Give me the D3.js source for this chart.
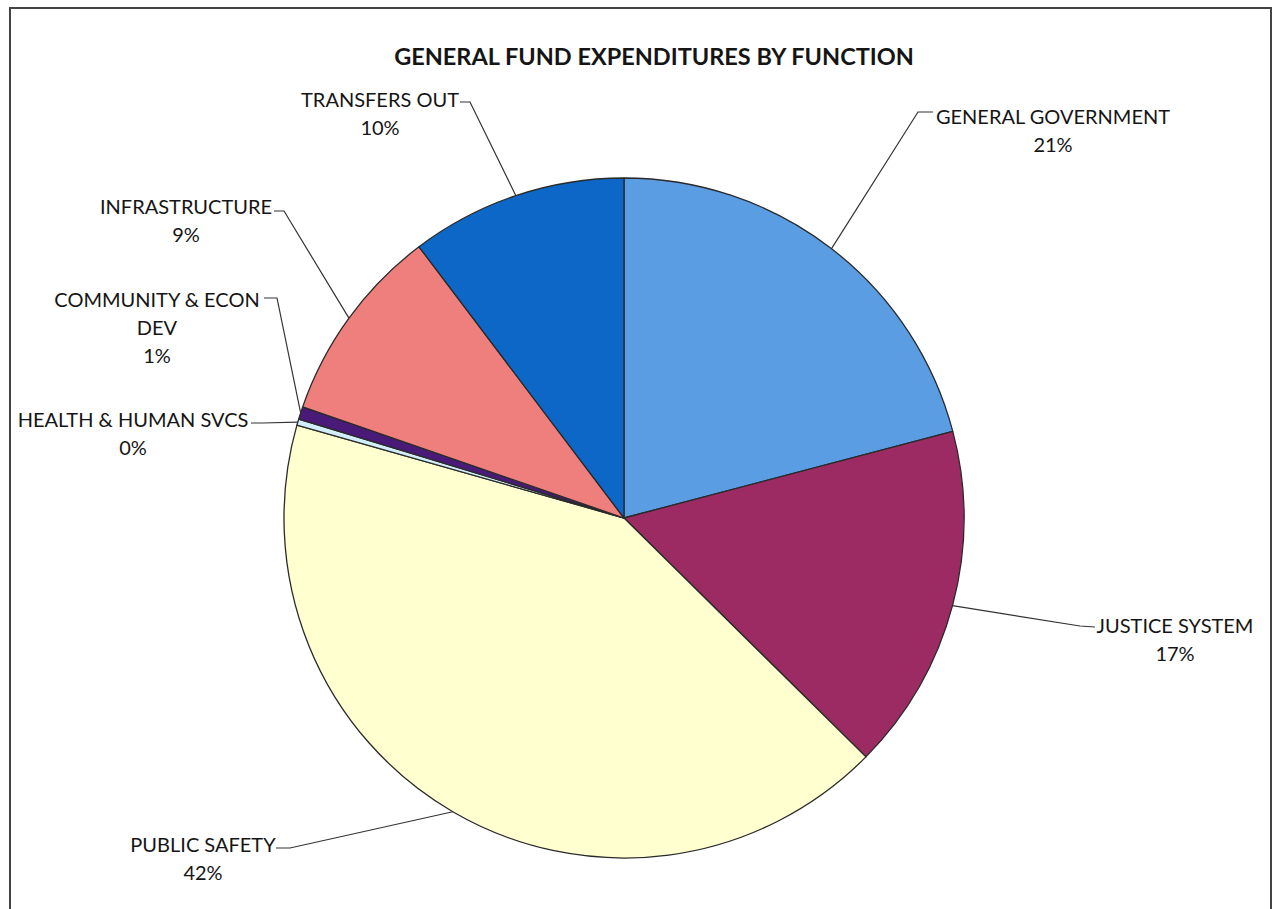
<!DOCTYPE html>
<html>
<head>
<meta charset="utf-8">
<script src="https://cdn.jsdelivr.net/npm/d3@7"></script>
<style>
  body { margin: 0; background: #fff; }
  text { font-family: Lato, "Open Sans", sans-serif; fill: #151515; }
</style>
</head>
<body>
<div id="chart"></div>
<script>
// categories, in clockwise order starting at 12 o'clock
var categories = ["GENERAL GOVERNMENT", "JUSTICE SYSTEM", "PUBLIC SAFETY",
  "HEALTH & HUMAN SVCS", "COMMUNITY & ECON DEV", "INFRASTRUCTURE", "TRANSFERS OUT"];
// share of expenditures, percent
var values = [20.9, 16.5, 42.0, 0.3, 0.6, 9.4, 10.3];
var colors = ["#5b9de3", "#9c2b63", "#ffffd0", "#d2eefa", "#4a1a78", "#ee7f7c", "#0c67c6"];

(function() {
  var width = 1272,
      height = 909

  var svg = d3.select("#chart")
    .append("svg")
    .attr("width", width)
    .attr("height", height)

  // outer frame
  svg.append("rect")
    .attr("x", 10).attr("y", 8)
    .attr("width", 1261).attr("height", 920)
    .attr("fill", "none")
    .attr("stroke", "#444")
    .attr("stroke-width", 2)

  svg.append("text")
    .attr("x", 654).attr("y", 65)
    .attr("text-anchor", "middle")
    .attr("font-size", 23.5)
    .attr("font-weight", "bold")
    .text("GENERAL FUND EXPENDITURES BY FUNCTION")

  var cx = 624, cy = 518, radius = 340

  var pie = d3.pie().sort(null).value(d => d.value)
  var arc = d3.arc().innerRadius(0).outerRadius(radius)

  var data = categories.map((c, i) => ({ name: c, value: values[i], color: colors[i] }))
  var arcs = pie(data)

  var g = svg.append("g")
    .attr("transform", "translate(" + cx + "," + cy + ")")

  g.selectAll("path")
    .data(arcs)
    .enter().append("path")
    .attr("d", arc)
    .attr("fill", d => d.data.color)
    .attr("stroke", "#2a2a2a")
    .attr("stroke-width", 1.3)
    .attr("stroke-linejoin", "round")

  // label layout: text lines, anchor point (centre of first line), and leader elbow
  var layout = [
    { lines: ["GENERAL GOVERNMENT"], x: 1053, y: 124, elbow: [[918, 112], [933, 112]] },
    { lines: ["JUSTICE SYSTEM"], x: 1175, y: 633, elbow: [[1080, 626], [1095, 627]] },
    { lines: ["PUBLIC SAFETY"], x: 203, y: 852, elbow: [[290, 848], [276, 848]] },
    { lines: ["HEALTH & HUMAN SVCS"], x: 133, y: 427, elbow: [[262, 423], [251, 423]] },
    { lines: ["COMMUNITY & ECON", "DEV"], x: 157, y: 307, elbow: [[277, 298], [264, 298]] },
    { lines: ["INFRASTRUCTURE"], x: 186, y: 214, elbow: [[284, 211], [274, 211]] },
    { lines: ["TRANSFERS OUT"], x: 380, y: 107, elbow: [[470, 102], [460, 102]] }
  ]

  var lineHeight = 28

  arcs.forEach(function(d, i) {
    var L = layout[i]
    var mid = (d.startAngle + d.endAngle) / 2
    var ex = cx + radius * Math.sin(mid)
    var ey = cy - radius * Math.cos(mid)
    var pts = [[ex, ey]].concat(L.elbow)

    svg.append("path")
      .attr("d", d3.line()(pts))
      .attr("fill", "none")
      .attr("stroke", "#333")
      .attr("stroke-width", 1.2)

    var t = svg.append("text")
      .attr("text-anchor", "middle")
      .attr("font-size", 20)
    L.lines.concat([Math.round(d.data.value) + "%"]).forEach(function(s, k) {
      t.append("tspan")
        .attr("x", L.x)
        .attr("y", L.y + k * lineHeight)
        .text(s)
    })
  })
})()
</script>
</body>
</html>
